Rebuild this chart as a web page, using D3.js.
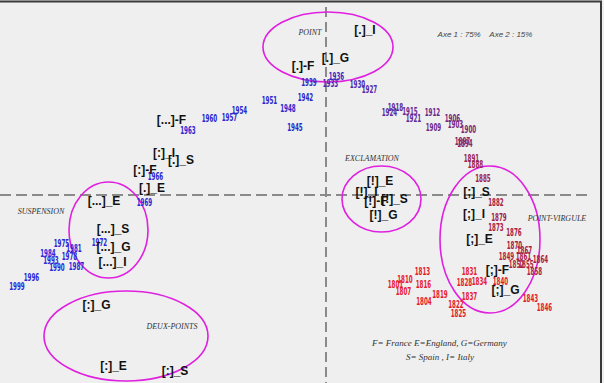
<!DOCTYPE html>
<html lang="en">
<head>
    <meta charset="UTF-8">
    <title>Ponctuation - analyse des correspondances</title>
    <script src="https://d3js.org/d3.v7.min.js"></script>
    <style>
        body {
            margin: 0;
            background-color: #fff;
        }
        svg {
            display: block;
        }
        .year {
            font-family: "Liberation Sans Narrow", "DejaVu Sans Condensed", "Arial Narrow", sans-serif;
            font-weight: bold;
            font-size: 10.5px;
        }
        .cat {
            font-family: "Liberation Sans", Arial, sans-serif;
            font-weight: bold;
            font-size: 12px;
            fill: #111;
        }
        .group-label {
            font-family: "Liberation Serif", "Times New Roman", serif;
            font-style: italic;
            font-size: 8px;
            fill: #333;
        }
        .note {
            font-family: "Liberation Serif", "Times New Roman", serif;
            font-style: italic;
            font-size: 9px;
            fill: #333;
        }
        .axe-note {
            font-family: "Liberation Sans", Arial, sans-serif;
            font-style: italic;
            font-size: 8px;
            fill: #444;
        }
    </style>
</head>
<body>
<div id="chart"></div>
<script>
    // years (supplementary points), coordinates on axis 1 / axis 2
    const years = [1801, 1804, 1807, 1810, 1813, 1816, 1819, 1822, 1825, 1828, 1831, 1834, 1837, 1840, 1843, 1846,
        1849, 1852, 1855, 1858, 1861, 1864, 1867, 1870, 1873, 1876, 1879, 1882, 1885, 1888, 1891, 1894, 1897,
        1900, 1903, 1906, 1909, 1912, 1915, 1918, 1921, 1924, 1927, 1930, 1933, 1936, 1939, 1942, 1945, 1948,
        1951, 1954, 1957, 1960, 1963, 1966, 1969, 1972, 1975, 1978, 1981, 1984, 1987, 1990, 1993, 1996, 1999];
    const yearAxis1 = [0.695, 0.98, 0.775, 0.79, 0.965, 0.975, 1.14, 1.30, 1.325, 1.385, 1.435, 1.535, 1.435, 1.745, 2.045, 2.185,
        1.805, 1.905, 2.00, 2.085, 1.975, 2.145, 1.985, 1.885, 1.70, 1.88, 1.73, 1.70, 1.57, 1.495, 1.455, 1.39, 1.365,
        1.425, 1.295, 1.265, 1.075, 1.065, 0.84, 0.695, 0.875, 0.635, 0.435, 0.315, 0.045, 0.105, -0.17, -0.205, -0.31, -0.38,
        -0.565, -0.865, -0.965, -1.165, -1.38, -1.705, -1.815, -2.265, -2.645, -2.565, -2.52, -2.78, -2.495, -2.69, -2.75, -2.945, -3.09];
    const yearAxis2 = [-0.89, -1.06, -0.96, -0.84, -0.76, -0.89, -0.99, -1.09, -1.18, -0.87, -0.76, -0.86, -1.01, -0.86, -1.03, -1.12,
        -0.61, -0.69, -0.69, -0.76, -0.61, -0.64, -0.55, -0.50, -0.32, -0.37, -0.22, -0.07, 0.17, 0.31, 0.37, 0.52, 0.54,
        0.66, 0.71, 0.77, 0.68, 0.83, 0.84, 0.88, 0.77, 0.83, 1.06, 1.11, 1.12, 1.19, 1.13, 0.98, 0.68, 0.87,
        0.95, 0.85, 0.78, 0.77, 0.65, 0.19, -0.07, -0.47, -0.48, -0.61, -0.53, -0.58, -0.71, -0.72, -0.65, -0.82, -0.91];

    // punctuation x country (active points)
    const categories = ["[.]_I", "[.]_G", "[.]-F", "[...]-F", "[:]_I", "[.]_S", "[:]-F", "[.]_E",
        "[...]_E", "[...]_S", "[...]_G", "[...]_I", "[:]_G", "[:]_E", "[:]_S",
        "[!]_E", "[!]_I", "[!]-F", "[!]_S", "[!]_G", "[;]_S", "[;]_I", "[;]_E", "[;]-F", "[;]_G"];
    const catAxis1 = [0.39, 0.095, -0.23, -1.545, -1.62, -1.45, -1.81, -1.74,
        -2.22, -2.13, -2.125, -2.135, -2.295, -2.125, -1.51,
        0.54, 0.405, 0.50, 0.685, 0.575, 1.505, 1.48, 1.535, 1.715, 1.795];
    const catAxis2 = [1.65, 1.37, 1.29, 0.75, 0.42, 0.35, 0.25, 0.07,
        -0.06, -0.34, -0.52, -0.67, -1.10, -1.71, -1.76,
        0.14, 0.03, -0.06, -0.04, -0.20, 0.03, -0.19, -0.44, -0.75, -0.95];

    // clusters drawn as ellipses
    const clusterNames = ["POINT", "SUSPENSION", "DEUX-POINTS", "EXCLAMATION", "POINT-VIRGULE"];
    const clusterCx = [0.02, -2.175, -2.00, 0.555, 1.64];
    const clusterCy = [1.48, -0.35, -1.41, -0.04, -0.445];
    const clusterRx = [0.65, 0.395, 0.82, 0.395, 0.50];
    const clusterRy = [0.35, 0.48, 0.45, 0.33, 0.735];
    const clusterLabelX = [-0.16, -2.85, -1.54, 0.46, 2.31];
    const clusterLabelY = [1.63, -0.16, -1.31, 0.37, -0.23];

    const inertiaText = "Axe 1 : 75%    Axe 2 : 15%";
    const legendLines = ["F= France E=England, G=Germany", "S= Spain , I= Italy"];

    const width = 604, height = 383;

    const x = d3.scaleLinear().domain([0, 1]).range([326, 426]);
    const y = d3.scaleLinear().domain([0, 1]).range([195, 95]);

    // red for the early years through purple to blue for the late ones
    const yearColor = d3.scaleLinear()
        .domain([1801, 1846, 1849, 1888, 1900, 1927, 1942, 1999])
        .range(["#e8192c", "#e41a30", "#b01f42", "#a02248", "#7a2878", "#5528a8", "#2a26cc", "#2a26dd"]);

    const svg = d3.select('#chart').append('svg')
        .attr('width', width)
        .attr('height', height);

    svg.append('rect')
        .attr('width', width)
        .attr('height', height)
        .attr('fill', '#efefef');

    // frame (top and right edges visible)
    svg.append('path')
        .attr('d', `M0,1.5 H601 V${height}`)
        .attr('fill', 'none')
        .attr('stroke', '#3a3a3a')
        .attr('stroke-width', 2);

    // dashed axes through the origin
    svg.append('line')
        .attr('x1', 0).attr('x2', 590)
        .attr('y1', y(0)).attr('y2', y(0))
        .attr('stroke', '#8a8a8a')
        .attr('stroke-width', 2)
        .attr('stroke-dasharray', '11,5');

    svg.append('line')
        .attr('x1', x(0)).attr('x2', x(0))
        .attr('y1', 7).attr('y2', height)
        .attr('stroke', '#8a8a8a')
        .attr('stroke-width', 2)
        .attr('stroke-dasharray', '10,5');

    // cluster ellipses
    svg.selectAll('.cluster')
        .data(clusterNames)
        .enter()
        .append('ellipse')
        .attr('class', 'cluster')
        .attr('cx', (d, i) => x(clusterCx[i]))
        .attr('cy', (d, i) => y(clusterCy[i]))
        .attr('rx', (d, i) => x(clusterRx[i]) - x(0))
        .attr('ry', (d, i) => y(0) - y(clusterRy[i]))
        .attr('fill', 'none')
        .attr('stroke', '#e020e0')
        .attr('stroke-width', 1.6);

    svg.selectAll('.group-label')
        .data(clusterNames)
        .enter()
        .append('text')
        .attr('class', 'group-label')
        .attr('x', (d, i) => x(clusterLabelX[i]))
        .attr('y', (d, i) => y(clusterLabelY[i]))
        .attr('dy', '0.35em')
        .attr('text-anchor', 'middle')
        .text(d => d);

    // year labels, squeezed to the narrow width of the original
    svg.selectAll('.year')
        .data(years)
        .enter()
        .append('text')
        .attr('class', 'year')
        .attr('x', (d, i) => x(yearAxis1[i]))
        .attr('y', (d, i) => y(yearAxis2[i]))
        .attr('dy', '0.35em')
        .attr('text-anchor', 'middle')
        .attr('textLength', 15.5)
        .attr('lengthAdjust', 'spacingAndGlyphs')
        .attr('fill', d => yearColor(d))
        .text(d => d);

    // category labels
    svg.selectAll('.cat')
        .data(categories)
        .enter()
        .append('text')
        .attr('class', 'cat')
        .attr('x', (d, i) => x(catAxis1[i]))
        .attr('y', (d, i) => y(catAxis2[i]))
        .attr('dy', '0.35em')
        .attr('text-anchor', 'middle')
        .text(d => d);

    svg.append('text')
        .attr('class', 'axe-note')
        .attr('x', 485)
        .attr('y', 34)
        .attr('dy', '0.35em')
        .attr('text-anchor', 'middle')
        .attr('xml:space', 'preserve')
        .style('white-space', 'pre')
        .text(inertiaText);

    svg.selectAll('.note')
        .data(legendLines)
        .enter()
        .append('text')
        .attr('class', 'note')
        .attr('x', (d, i) => i === 0 ? 372 : 406)
        .attr('y', (d, i) => 343 + i * 14)
        .attr('dy', '0.35em')
        .text(d => d);
</script>
</body>
</html>
